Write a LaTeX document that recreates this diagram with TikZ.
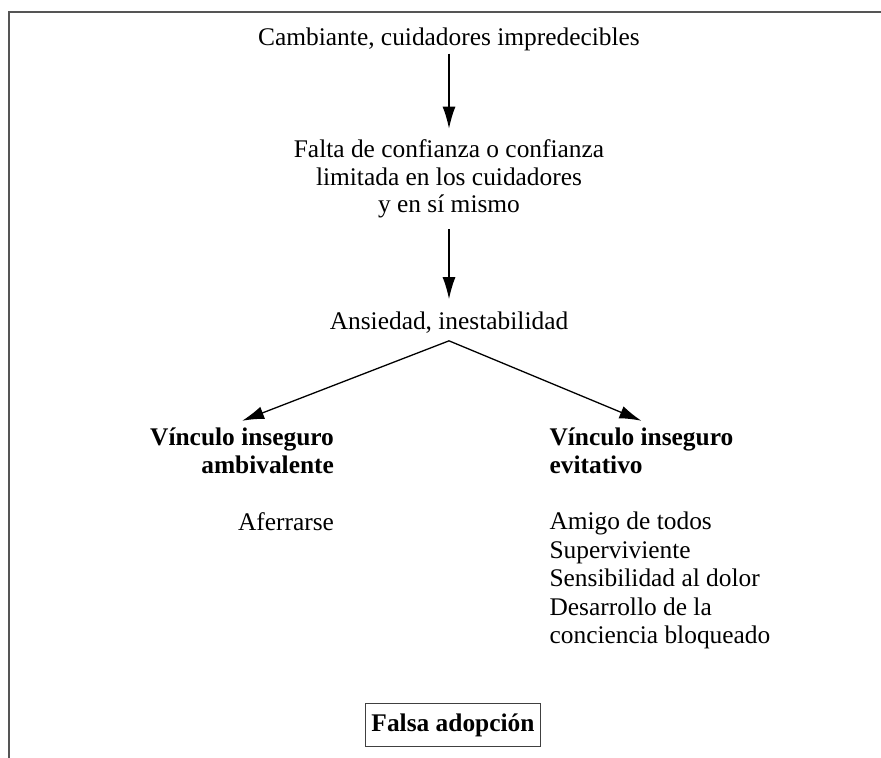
\documentclass[tikz,border=0pt]{standalone}
\usepackage{fontspec}
\setmainfont{Liberation Serif}
\usetikzlibrary{positioning,arrows.meta}
\definecolor{framegray}{HTML}{555555}
\newcommand{\vb}[1]{\textbf{#1}}

\begin{document}
\begin{tikzpicture}[x=0.5pt,y=-0.5pt,node distance=71pt,
  every node/.style={font=\fontsize{12.7pt}{14.2pt}\selectfont},
  mid/.style={align=center,font=\fontsize{12.7pt}{13.8pt}\selectfont},
  flow/.style={-{Latex[length=11pt,width=6.5pt]},line width=0.65pt},
  outcome/.style={draw=black!75,line width=0.6pt,inner xsep=3pt,inner ysep=5pt}]

  \useasboundingbox (0,0) rectangle (881,758);
  \draw[framegray,line width=1pt] (9,758) -- (9,12) -- (881,12);

  \node (cause) at (449,39)  {Cambiante, cuidadores impredecibles};
  \node (trust) [mid,below of=cause,yshift=1pt] {Falta de confianza o confianza\\limitada en los cuidadores\\y en sí mismo};
  \node (anx)   [below of=trust,yshift=-1pt] {Ansiedad, inestabilidad};

  \node (amb) [below of=anx,node distance=64pt,xshift=-54pt,anchor=east,align=right]
    {\vb{Vínculo inseguro}\\\vb{ambivalente}};
  \node (avo) [below of=anx,node distance=64pt,xshift=46.75pt,anchor=west,align=left]
    {\vb{Vínculo inseguro}\\\vb{evitativo}};

  \node (cling) [below=12pt of amb.south east,anchor=north east] {Aferrarse};
  \node (signs) [below=12pt of avo.south west,anchor=north west,align=left]
    {Amigo de todos\\Superviviente\\Sensibilidad al dolor\\Desarrollo de la\\conciencia bloqueado};

  \node (fake) [outcome,below of=anx,node distance=201pt,xshift=2pt] {\vb{Falsa adopción}};

  %% -- edges
  \draw[flow,shorten >=2pt,shorten <=-2pt] (cause) -- (trust);
  \draw[flow,shorten >=3pt,shorten <=2pt] (trust) -- (anx);
  %% split
  \draw[flow] (anx.south) -- (amb.north);
  \draw[flow] (anx.south) -- (avo.north);

\end{tikzpicture}
\end{document}
